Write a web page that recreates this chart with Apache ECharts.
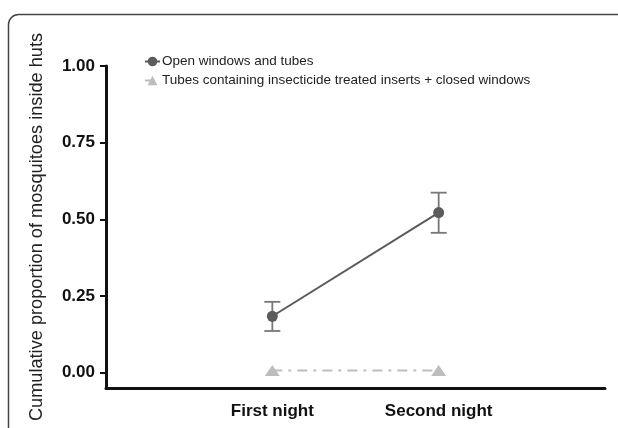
<!DOCTYPE html>
<html>
<head>
<meta charset="utf-8">
<script src="https://cdn.jsdelivr.net/npm/echarts@6/dist/echarts.min.js"></script>
<style>html,body{margin:0;padding:0;background:#fff;}#c{width:618px;height:428px;}</style>
</head>
<body>
<div id="c"></div>
<script>
var categories = ['First night', 'Second night'];
var catPositions = [1, 2];
var openValues = [0.184, 0.522];
var openLow = [0.136, 0.456];
var openHigh = [0.231, 0.587];
var tubeValues = [0.007, 0.007];
var yTicks = [0, 0.25, 0.5, 0.75, 1.0];
var seriesNames = ['Open windows and tubes', 'Tubes containing insecticide treated inserts + closed windows'];

var chart = echarts.init(document.getElementById('c'));
var openData = catPositions.map(function (x, i) { return [x, openValues[i]]; });
var tubeData = catPositions.map(function (x, i) { return [x, tubeValues[i]]; });
var errData = catPositions.map(function (x, i) { return [x, openLow[i], openHigh[i]]; });
var FONT = 'Liberation Sans, Arial, sans-serif';

chart.setOption({
  animation: false,
  backgroundColor: '#fff',
  graphic: [{
    type: 'rect', left: 6, top: 12, z: -1,
    shape: { width: 700, height: 500, r: 10 },
    style: { fill: 'none', stroke: '#444', lineWidth: 1.5 }
  }],
  grid: { left: 106, right: 13, top: 66, bottom: 40 },
  legend: {
    orient: 'vertical', left: 139, top: 47, itemGap: 0, itemWidth: 15, itemHeight: 12,
    textStyle: { fontFamily: FONT, fontSize: 13.5, lineHeight: 19, color: '#222', padding: [0, 0, 0, -3] },
    data: seriesNames
  },
  xAxis: {
    type: 'value', min: 0, max: 3, interval: 1,
    axisLine: { show: true, onZero: false, lineStyle: { color: '#111', width: 3 } },
    axisTick: { show: false },
    splitLine: { show: false },
    axisLabel: {
      margin: 15,
      fontFamily: FONT, fontSize: 17, fontWeight: 'bold', color: '#111',
      formatter: function (v) { var i = catPositions.indexOf(v); return i >= 0 ? categories[i] : ''; }
    }
  },
  yAxis: {
    type: 'value', min: -0.05, max: 1.0,
    name: 'Cumulative proportion of mosquitoes inside huts',
    nameLocation: 'middle', nameGap: 60,
    nameTextStyle: { fontFamily: FONT, fontSize: 18.2, color: '#222' },
    axisLine: { show: true, onZero: false, lineStyle: { color: '#111', width: 3 } },
    axisTick: { show: true, length: 6, lineStyle: { color: '#111', width: 2 }, customValues: yTicks },
    splitLine: { show: false },
    axisLabel: {
      customValues: yTicks, margin: 11,
      fontFamily: FONT, fontSize: 17, fontWeight: 'bold', color: '#111',
      formatter: function (v) { return v.toFixed(2); }
    }
  },
  series: [
    {
      type: 'custom', name: 'err', silent: true, z: 1,
      data: errData,
      encode: { x: 0, y: [1, 2] },
      renderItem: function (params, api) {
        var x = api.value(0);
        var lo = api.coord([x, api.value(1)]);
        var hi = api.coord([x, api.value(2)]);
        var w = 8;
        var st = { stroke: '#777', lineWidth: 1.8 };
        return {
          type: 'group',
          children: [
            { type: 'line', shape: { x1: lo[0], y1: lo[1], x2: hi[0], y2: hi[1] }, style: st },
            { type: 'line', shape: { x1: lo[0] - w, y1: lo[1], x2: lo[0] + w, y2: lo[1] }, style: st },
            { type: 'line', shape: { x1: hi[0] - w, y1: hi[1], x2: hi[0] + w, y2: hi[1] }, style: st }
          ]
        };
      }
    },
    {
      type: 'line', name: seriesNames[0], data: openData, z: 3,
      symbol: 'circle', symbolSize: 11,
      itemStyle: { color: '#5b5b5b' },
      lineStyle: { color: '#5b5b5b', width: 2 }
    },
    {
      type: 'line', name: seriesNames[1], data: tubeData, z: 2,
      symbol: 'triangle', symbolSize: [15, 11],
      itemStyle: { color: '#bdbdbd' },
      lineStyle: { color: '#bdbdbd', width: 2, type: [10, 6, 3, 6] }
    }
  ]
});
</script>
</body>
</html>
